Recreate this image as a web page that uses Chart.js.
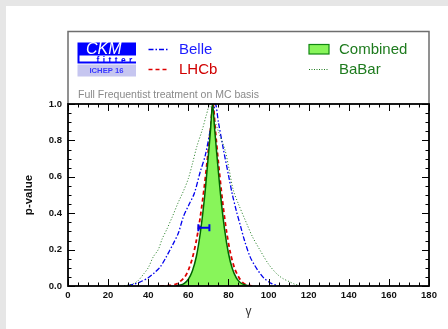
<!DOCTYPE html>
<html>
<head>
<meta charset="utf-8">
<title>gamma p-value</title>
<script src="https://cdn.jsdelivr.net/npm/chart.js@4.4.1/dist/chart.umd.min.js"></script>
<style>
  html, body { margin: 0; padding: 0; background: #e6e6e6; }
  #wrap { width: 448px; height: 329px; position: relative; }
</style>
</head>
<body>
<div id="wrap"><canvas id="chart" width="448" height="329"></canvas></div>
<script>
// values (gamma in degrees, p-value)
const gammaCombined = [54, 56, 58, 60, 62, 64, 66, 68, 70, 71, 72.1, 73, 74, 76, 78, 80, 82, 84, 86, 88, 90];
const pCombined = [0.002, 0.005, 0.015, 0.037, 0.082, 0.162, 0.294, 0.478, 0.719, 0.849, 1.0, 0.88, 0.749, 0.509, 0.317, 0.18, 0.093, 0.043, 0.018, 0.007, 0.002];

const gammaLHCb = [46, 50, 54, 58, 60, 62, 64, 66, 68, 70, 71, 72.3, 73.5, 75, 77, 79, 81, 83, 85, 87, 89, 92];
const pLHCb = [0, 0.002, 0.011, 0.047, 0.087, 0.153, 0.25, 0.382, 0.549, 0.749, 0.857, 1.0, 0.853, 0.678, 0.471, 0.303, 0.18, 0.099, 0.051, 0.02, 0.006, 0];

const gammaBelle = [30, 33, 36, 40, 43, 46, 49, 52.5, 55, 57.5, 60, 63, 66, 68.5, 71, 73.5, 75, 77.5, 80, 82, 84, 86, 88, 90.8, 93, 95.8, 98, 101.6, 104, 106];
const pBelle = [0.003, 0.01, 0.022, 0.045, 0.072, 0.105, 0.16, 0.233, 0.29, 0.38, 0.44, 0.51, 0.63, 0.72, 0.86, 1.0, 0.9, 0.75, 0.61, 0.5, 0.41, 0.33, 0.25, 0.16, 0.115, 0.068, 0.04, 0.013, 0.004, 0];

const gammaBaBar = [28, 30, 32.6, 35, 38, 40, 42.5, 45, 47, 49.2, 52, 55, 57.5, 60, 62, 64.2, 67, 69, 70.8, 72.5, 75, 78.3, 80, 82.4, 85, 89.1, 92, 95.8, 100, 104, 107, 110.7, 113, 116];
const pBaBar = [0.002, 0.005, 0.013, 0.03, 0.07, 0.1, 0.16, 0.2, 0.26, 0.31, 0.38, 0.46, 0.52, 0.59, 0.67, 0.765, 0.86, 0.94, 1.0, 0.93, 0.85, 0.747, 0.66, 0.527, 0.45, 0.343, 0.27, 0.196, 0.12, 0.068, 0.042, 0.022, 0.01, 0.002];

// the blue point with its horizontal error bar
const barGamma = [66.4];
const barP = [0.32];
const barLow = [65.0];
const barHigh = [70.5];

const xTicks = [0, 20, 40, 60, 80, 100, 120, 140, 160, 180];
const yTicks = [0.0, 0.2, 0.4, 0.6, 0.8, 1.0];

const FONT = "'Liberation Sans', Arial, Helvetica, sans-serif";

function toPoints(xs, ys) {
    return xs.map((x, i) => ({ x: x, y: ys[i] }));
}

// grey page with a white panel behind everything
const panelPlugin = {
    id: 'panel',
    beforeDraw(chart) {
        const ctx = chart.ctx;
        ctx.save();
        ctx.fillStyle = '#e6e6e6';
        ctx.fillRect(0, 0, chart.width, chart.height);
        ctx.fillStyle = '#ffffff';
        ctx.fillRect(6, 6, chart.width - 6, chart.height - 6);
        ctx.restore();
    }
};

// horizontal error bar, placed through the scales
const errorBarPlugin = {
    id: 'errorBar',
    afterDatasetsDraw(chart) {
        const { ctx, scales: { x, y } } = chart;
        ctx.save();
        ctx.strokeStyle = '#0000ee';
        ctx.lineWidth = 2;
        barP.forEach((p, i) => {
            const py = y.getPixelForValue(p);
            const x0 = x.getPixelForValue(barLow[i]);
            const x1 = x.getPixelForValue(barHigh[i]);
            ctx.beginPath();
            ctx.moveTo(x0, py); ctx.lineTo(x1, py);
            ctx.moveTo(x0, py - 3.5); ctx.lineTo(x0, py + 3.5);
            ctx.moveTo(x1, py - 3.5); ctx.lineTo(x1, py + 3.5);
            ctx.stroke();
        });
        ctx.restore();
    }
};

// frame with inward ticks on all four sides, and the legend box above
const framePlugin = {
    id: 'frame',
    afterDraw(chart) {
        const { ctx, chartArea: a, scales: { x, y } } = chart;
        ctx.save();

        // legend box
        ctx.strokeStyle = '#6e6e6e';
        ctx.lineWidth = 1.5;
        ctx.beginPath();
        ctx.moveTo(a.left, a.top);
        ctx.lineTo(a.left, 31.5);
        ctx.lineTo(a.right, 31.5);
        ctx.lineTo(a.right, a.top);
        ctx.stroke();

        // ticks
        ctx.strokeStyle = '#000';
        ctx.lineWidth = 1;
        ctx.beginPath();
        for (let v = 0; v <= 180; v += 5) {
            const px = Math.round(x.getPixelForValue(v)) + 0.5;
            const len = v % 20 === 0 ? 7 : 3.5;
            ctx.moveTo(px, a.bottom); ctx.lineTo(px, a.bottom - len);
            ctx.moveTo(px, a.top); ctx.lineTo(px, a.top + len);
        }
        for (let k = 0; k <= 20; k++) {
            const py = Math.round(y.getPixelForValue(k * 0.05)) + 0.5;
            const len = k % 4 === 0 ? 7 : 3.5;
            ctx.moveTo(a.left, py); ctx.lineTo(a.left + len, py);
            ctx.moveTo(a.right, py); ctx.lineTo(a.right - len, py);
        }
        ctx.stroke();

        ctx.lineWidth = 1.8;
        ctx.strokeRect(a.left, a.top, a.right - a.left, a.bottom - a.top);

        // CKMfitter logo
        ctx.fillStyle = '#0000ff';
        ctx.fillRect(77.5, 42.5, 58.5, 21);
        ctx.fillStyle = '#ffffff';
        ctx.fillRect(79.5, 55.5, 56.5, 6);
        ctx.fillStyle = '#c6c6f0';
        ctx.fillRect(77.5, 64.5, 58.5, 12);
        ctx.fillStyle = '#ffffff';
        ctx.font = 'italic 16px ' + FONT;
        ctx.textBaseline = 'alphabetic';
        ctx.textAlign = 'left';
        ctx.fillText('CKM', 86, 54);
        ctx.fillStyle = '#0000ff';
        ctx.font = 'bold 8.5px ' + FONT;
        const fitter = 'fitter';
        let fx = 96.5;
        for (const ch of fitter) {
            ctx.fillText(ch, fx, 62.8);
            fx += ctx.measureText(ch).width + 3.4;
        }
        ctx.fillStyle = '#3a3aff';
        ctx.font = 'bold 7.7px ' + FONT;
        ctx.textAlign = 'center';
        ctx.textBaseline = 'middle';
        ctx.fillText('ICHEP 16', 106.5, 70.8);

        // legend entries
        ctx.textAlign = 'left';
        ctx.font = '15px ' + FONT;
        ctx.lineWidth = 1.3;
        ctx.strokeStyle = '#0000ee';
        ctx.setLineDash([5, 2, 1.5, 2]);
        ctx.beginPath(); ctx.moveTo(148.5, 49.5); ctx.lineTo(169.5, 49.5); ctx.stroke();
        ctx.fillStyle = '#1c1cff';
        ctx.fillText('Belle', 179, 49.5);

        ctx.lineWidth = 1.6;
        ctx.strokeStyle = '#dd0000';
        ctx.setLineDash([4, 3]);
        ctx.beginPath(); ctx.moveTo(148.5, 69.5); ctx.lineTo(169.5, 69.5); ctx.stroke();
        ctx.fillStyle = '#d00000';
        ctx.fillText('LHCb', 179, 69.5);

        ctx.setLineDash([]);
        ctx.fillStyle = '#88f55a';
        ctx.fillRect(309, 44.5, 20, 9.5);
        ctx.strokeStyle = '#118811';
        ctx.lineWidth = 1.2;
        ctx.strokeRect(309, 44.5, 20, 9.5);
        ctx.fillStyle = '#1e7b1e';
        ctx.fillText('Combined', 339, 49.5);

        ctx.lineWidth = 1;
        ctx.strokeStyle = '#1e7b1e';
        ctx.setLineDash([1, 1.5]);
        ctx.beginPath(); ctx.moveTo(309, 69.5); ctx.lineTo(329, 69.5); ctx.stroke();
        ctx.setLineDash([]);
        ctx.fillText('BaBar', 339, 69.5);

        ctx.fillStyle = '#8a8a8a';
        ctx.font = '10.5px ' + FONT;
        ctx.fillText('Full Frequentist treatment on MC basis', 78, 95);

        ctx.restore();
    }
};

new Chart(document.getElementById('chart'), {
    type: 'line',
    data: {
        datasets: [
            {
                label: 'Combined',
                data: toPoints(gammaCombined, pCombined),
                borderColor: '#006400',
                borderWidth: 1.5,
                backgroundColor: '#88f55a',
                fill: 'origin',
                pointRadius: 0,
                tension: 0.3
            },
            {
                label: 'BaBar',
                data: toPoints(gammaBaBar, pBaBar),
                borderColor: '#1e7b1e',
                borderWidth: 1,
                borderDash: [1, 2],
                fill: false,
                pointRadius: 0,
                tension: 0.3
            },
            {
                label: 'Belle',
                data: toPoints(gammaBelle, pBelle),
                borderColor: '#0000ee',
                borderWidth: 1.3,
                borderDash: [5, 2, 1.5, 2],
                fill: false,
                pointRadius: 0,
                tension: 0.3
            },
            {
                label: 'LHCb',
                data: toPoints(gammaLHCb, pLHCb),
                borderColor: '#dd0000',
                borderWidth: 1.8,
                borderDash: [4, 3],
                fill: false,
                pointRadius: 0,
                tension: 0.3
            },
            {
                label: 'point',
                data: toPoints(barGamma, barP),
                showLine: false,
                pointStyle: 'rect',
                pointRadius: 2.8,
                backgroundColor: '#0000ee',
                borderColor: '#0000ee',
                borderWidth: 0
            }
        ]
    },
    options: {
        responsive: false,
        animation: false,
        devicePixelRatio: 1,
        layout: { padding: { left: 18, right: 19, top: 104, bottom: 6 } },
        plugins: {
            legend: { display: false },
            tooltip: { enabled: false }
        },
        scales: {
            x: {
                type: 'linear',
                min: 0,
                max: 180,
                afterBuildTicks: (s) => { s.ticks = xTicks.map(v => ({ value: v })); },
                afterFit: (s) => { s.height = 37; },
                ticks: {
                    color: '#111',
                    padding: 4,
                    maxRotation: 0,
                    font: { family: FONT, size: 9.5, weight: 'bold' }
                },
                grid: { display: false, drawTicks: false },
                border: { display: false },
                title: {
                    display: true,
                    text: 'γ',
                    color: '#333',
                    padding: { top: 0, bottom: 4 },
                    font: { family: FONT, size: 12 }
                }
            },
            y: {
                min: 0,
                max: 1,
                afterBuildTicks: (s) => { s.ticks = yTicks.map(v => ({ value: v })); },
                afterFit: (s) => { s.width = 50; },
                ticks: {
                    color: '#111',
                    padding: 6,
                    callback: (v) => Number(v).toFixed(1),
                    font: { family: FONT, size: 9.5, weight: 'bold' }
                },
                grid: { display: false, drawTicks: false },
                border: { display: false },
                title: {
                    display: true,
                    text: 'p-value',
                    color: '#111',
                    padding: { top: 4, bottom: 4 },
                    font: { family: FONT, size: 11.5, weight: 'bold' }
                }
            }
        }
    },
    plugins: [panelPlugin, errorBarPlugin, framePlugin]
});
</script>
</body>
</html>
